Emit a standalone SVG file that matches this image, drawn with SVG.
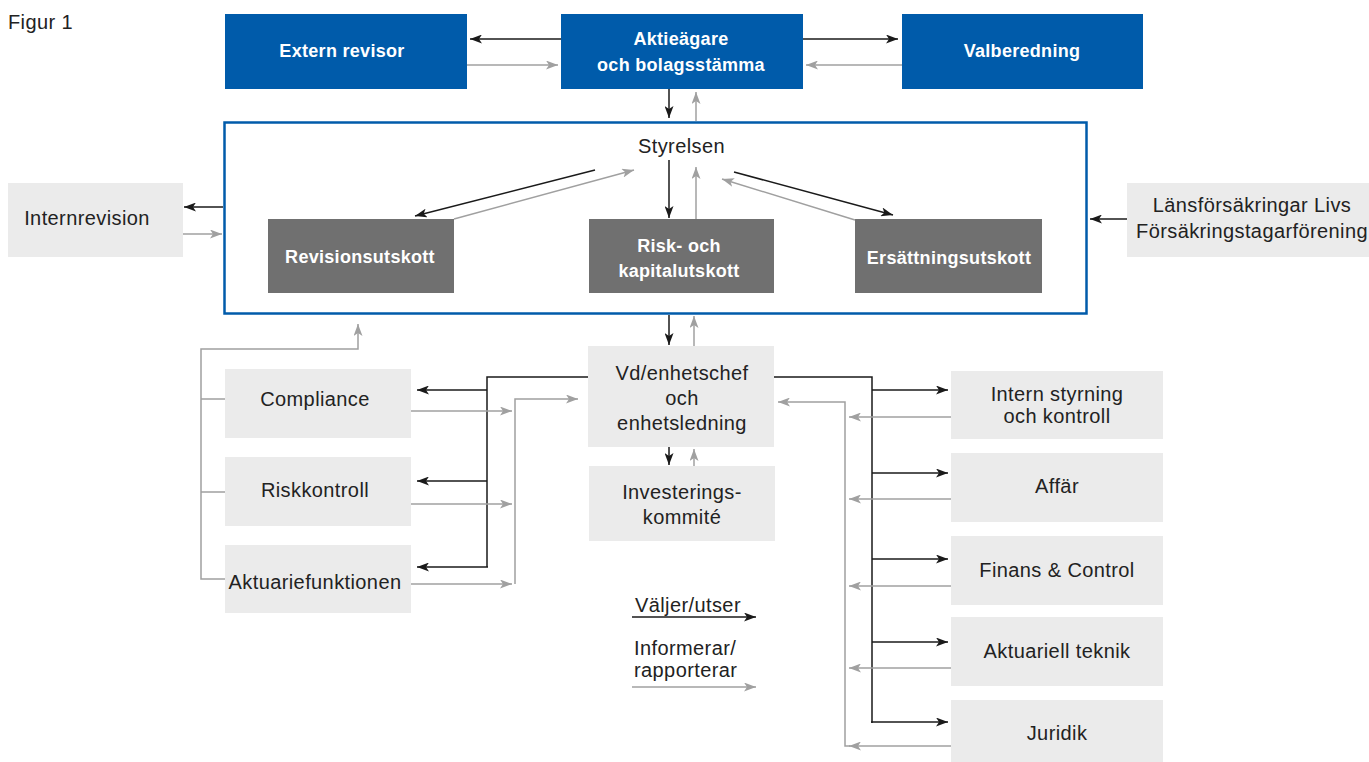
<svg xmlns="http://www.w3.org/2000/svg" width="1369" height="762" viewBox="0 0 1369 762">
<style>
.blue{fill:#005BAA}
.dark{fill:#707070}
.light{fill:#EBEBEB}
.tw{font-family:"Liberation Sans",Arial,sans-serif;font-weight:bold;font-size:18px;fill:#fff;text-anchor:middle;letter-spacing:0.3px}
.t{font-family:"Liberation Sans",Arial,sans-serif;font-size:20px;fill:#222;text-anchor:middle;letter-spacing:0.4px}
.tl{font-family:"Liberation Sans",Arial,sans-serif;font-size:20px;fill:#222;letter-spacing:0.4px}
.k{fill:none;stroke:#1A1A1A;stroke-width:1.5}
.g{fill:none;stroke:#A0A0A0;stroke-width:1.5}
.ka{marker-end:url(#ab)}
.ga{marker-end:url(#ag)}
</style>
<defs>
<marker id="ab" markerUnits="userSpaceOnUse" markerWidth="12" markerHeight="9" viewBox="0 0 12 9" refX="12" refY="4.5" orient="auto">
<path d="M0,0 L12,4.5 L0,9 L3,4.5 z" fill="#1A1A1A"/>
</marker>
<marker id="ag" markerUnits="userSpaceOnUse" markerWidth="12" markerHeight="9" viewBox="0 0 12 9" refX="12" refY="4.5" orient="auto">
<path d="M0,0 L12,4.5 L0,9 L3,4.5 z" fill="#A0A0A0"/>
</marker>
</defs>
<rect width="1369" height="762" fill="#fff"/>
<text class="tl" x="8" y="29">Figur 1</text>

<g id="extern-revisor"><rect class="blue" x="225" y="14" width="242" height="75"/><text class="tw" x="342" y="57">Extern revisor</text></g>
<g id="aktieagare"><rect class="blue" x="561" y="14" width="242" height="75"/><text class="tw" x="681" y="45">Aktieägare</text><text class="tw" x="681" y="71">och bolagsstämma</text></g>
<g id="valberedning"><rect class="blue" x="902" y="14" width="241" height="75"/><text class="tw" x="1022" y="57">Valberedning</text></g>

<g id="styrelsen"><rect x="224.5" y="122.5" width="862" height="191" fill="none" stroke="#005BAA" stroke-width="2.5"/><text class="t" x="681.5" y="153">Styrelsen</text></g>
<g id="revisionsutskott"><rect class="dark" x="268" y="219" width="186" height="74"/><text class="tw" x="360" y="263">Revisionsutskott</text></g>
<g id="risk-kapitalutskott"><rect class="dark" x="589" y="219" width="185" height="74"/><text class="tw" x="679" y="252">Risk- och</text><text class="tw" x="679" y="277">kapitalutskott</text></g>
<g id="ersattningsutskott"><rect class="dark" x="855" y="219" width="187" height="74"/><text class="tw" x="949" y="264">Ersättningsutskott</text></g>

<g id="internrevision"><rect class="light" x="8" y="183" width="175" height="74"/><text class="t" x="87" y="225">Internrevision</text></g>
<g id="lansforsakringar"><rect class="light" x="1127" y="183" width="242" height="74"/><text class="t" x="1252" y="212">Länsförsäkringar Livs</text><text class="t" x="1252" y="238">Försäkringstagarförening</text></g>

<g id="compliance"><rect class="light" x="225" y="369" width="186" height="69"/><text class="t" x="315" y="406">Compliance</text></g>
<g id="riskkontroll"><rect class="light" x="225" y="457" width="186" height="69"/><text class="t" x="315" y="497">Riskkontroll</text></g>
<g id="aktuariefunktionen"><rect class="light" x="225" y="545" width="186" height="68"/><text class="t" x="315" y="589">Aktuariefunktionen</text></g>

<g id="vd"><rect class="light" x="588" y="346" width="186" height="101"/><text class="t" x="682" y="380">Vd/enhetschef</text><text class="t" x="682" y="405">och</text><text class="t" x="682" y="430">enhetsledning</text></g>
<g id="investeringskommite"><rect class="light" x="589" y="466" width="186" height="75"/><text class="t" x="682" y="499">Investerings-</text><text class="t" x="682" y="524">kommité</text></g>

<g id="intern-styrning"><rect class="light" x="951" y="371" width="212" height="68"/><text class="t" x="1057" y="401">Intern styrning</text><text class="t" x="1057" y="423">och kontroll</text></g>
<g id="affar"><rect class="light" x="951" y="453" width="212" height="69"/><text class="t" x="1057" y="493">Affär</text></g>
<g id="finans"><rect class="light" x="951" y="536" width="212" height="69"/><text class="t" x="1057" y="577">Finans &amp; Control</text></g>
<g id="aktuariell-teknik"><rect class="light" x="951" y="617" width="212" height="69"/><text class="t" x="1057" y="658">Aktuariell teknik</text></g>
<g id="juridik"><rect class="light" x="951" y="700" width="212" height="70"/><text class="t" x="1057" y="740">Juridik</text></g>

<g id="legend"><text class="tl" x="635" y="612">Väljer/utser</text><text class="tl" x="634" y="655">Informerar/</text><text class="tl" x="634" y="677">rapporterar</text></g>

<g id="connectors">
<path class="k ka" d="M561,39 H470"/>
<path class="g ga" d="M467,65 H558"/>
<path class="k ka" d="M803,39 H898"/>
<path class="g ga" d="M902,65 H806"/>
<path class="k ka" d="M669,89 V118"/>
<path class="g ga" d="M696,121 V92"/>

<path class="k ka" d="M595,170 L415,216"/>
<path class="g ga" d="M454,219 L634,170"/>
<path class="k ka" d="M669,160 V218"/>
<path class="g ga" d="M696,219 V167"/>
<path class="k ka" d="M734,172 L893,215"/>
<path class="g ga" d="M855,220 L722,179"/>

<path class="k ka" d="M223,207 H184"/>
<path class="g ga" d="M183,234 H222"/>
<path class="k ka" d="M1127,219 H1090"/>

<path class="k ka" d="M669,315 V345"/>
<path class="g ga" d="M694,346 V316"/>
<path class="k ka" d="M669,447 V465"/>
<path class="g ga" d="M694,466 V449"/>

<path class="g ga" d="M225,579 H201 V349 H358 V324"/>
<path class="g" d="M201,399 H225 M201,492 H225"/>

<path class="k" d="M588,377 H487 V567"/>
<path class="k ka" d="M487,390 H417"/>
<path class="k ka" d="M487,481 H417"/>
<path class="k ka" d="M488,567 H417"/>

<path class="g ga" d="M411,411 H512"/>
<path class="g ga" d="M411,504 H512"/>
<path class="g ga" d="M411,584 H512"/>
<path class="g ga" d="M515,584 V399 H578"/>

<path class="k" d="M774,377 H872 V723"/>
<path class="k ka" d="M872,390 H948"/>
<path class="k ka" d="M872,473 H948"/>
<path class="k ka" d="M872,559 H948"/>
<path class="k ka" d="M872,642 H948"/>
<path class="k ka" d="M871,722 H948"/>

<path class="g ga" d="M951,417 H849"/>
<path class="g ga" d="M951,499 H849"/>
<path class="g ga" d="M951,586 H849"/>
<path class="g ga" d="M951,668 H849"/>
<path class="g ga" d="M951,746 H849"/>
<path class="g ga" d="M850,746 H845 V402 H778"/>

<path class="k ka" d="M632,617 H756"/>
<path class="g ga" d="M632,687 H756"/>
</g>
</svg>
